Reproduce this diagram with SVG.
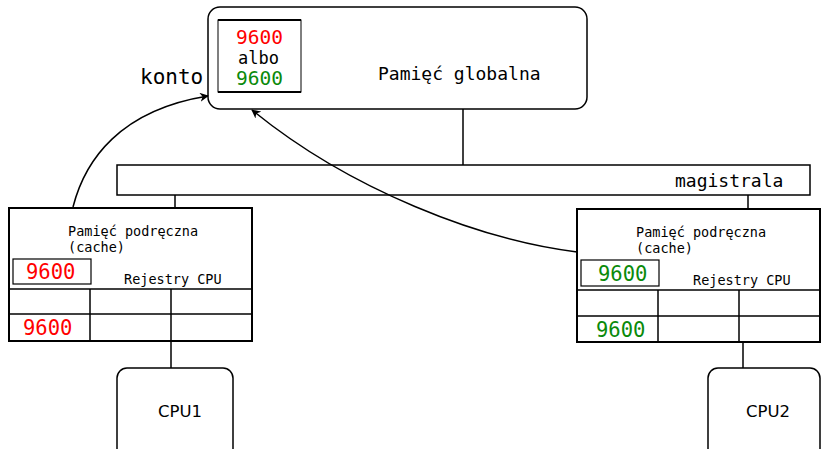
<svg xmlns="http://www.w3.org/2000/svg" width="822" height="449" viewBox="0 0 822 449">
  <style>
    .box { fill: #fff; stroke: #000; }
    .ln { fill: none; stroke: #000; stroke-width: 1.5; }
    .mono { font-family: "DejaVu Sans Mono", "Liberation Mono", monospace; fill: #000; }
    .big { font-size: 20.5px; }
    .mid { font-size: 18px; }
    .small { font-size: 13.5px; }
    .sans { font-family: "DejaVu Sans", "Noto Sans", sans-serif; font-size: 16.5px; text-anchor: middle; }
    .red { fill: #ff0000; }
    .green { fill: #0a8a0a; }
    .var { font-size: 19.5px; }
  </style>
  <defs>
    <marker id="arrow" viewBox="0 0 10 10" refX="9" refY="5" markerWidth="9" markerHeight="9" markerUnits="userSpaceOnUse" orient="auto">
      <path d="M0,0 L10,5 L0,10 L3,5 Z" fill="#000"/>
    </marker>
  </defs>

  <!-- bus and its connections -->
  <g id="connectors">
    <line class="ln" x1="463" y1="109" x2="463" y2="165"/>
    <line class="ln" x1="175" y1="195" x2="175" y2="208"/>
    <line class="ln" x1="748" y1="195" x2="748" y2="209" stroke-width="2.5"/>
    <line class="ln" x1="171" y1="341" x2="171" y2="368"/>
    <line class="ln" x1="743" y1="342" x2="743" y2="368"/>
  </g>

  <g id="bus">
    <rect class="box" x="117" y="165" width="693" height="30" stroke-width="1.5"/>
    <text class="mono mid" x="675" y="187">magistrala</text>
  </g>

  <g id="global-memory">
    <rect class="box" x="208" y="7" width="379" height="102" rx="12" stroke-width="1.5"/>
    <rect class="box" x="218" y="20" width="83" height="72" stroke-width="1"/>
    <line x1="218" y1="20" x2="301" y2="20" stroke="#000" stroke-width="2"/>
    <line x1="218" y1="92" x2="301" y2="92" stroke="#000" stroke-width="2"/>
    <text class="mono var red" x="236" y="44">9600</text>
    <text class="mono" font-size="17" x="238" y="63.5">albo</text>
    <text class="mono var green" x="236" y="84.5">9600</text>
    <text class="mono mid" x="378" y="80">Pamięć globalna</text>
  </g>

  <g id="konto-label">
    <text class="mono" font-size="21" x="140" y="84">konto</text>
  </g>

  <g id="cache1">
    <rect class="box" x="9" y="208" width="243" height="133" stroke-width="2"/>
    <text class="mono small" x="68" y="236">Pamięć podręczna</text>
    <text class="mono small" x="68" y="252">(cache)</text>
    <rect class="box" x="13" y="259" width="78" height="25" stroke-width="1.2"/>
    <text class="mono big red" x="26" y="279">9600</text>
    <text class="mono small" x="124" y="284">Rejestry CPU</text>
    <line class="ln" x1="9" y1="289" x2="252" y2="289" stroke-width="1.2"/>
    <line class="ln" x1="9" y1="314" x2="252" y2="314" stroke-width="1.2"/>
    <line class="ln" x1="90" y1="289" x2="90" y2="341" stroke-width="1.2"/>
    <line class="ln" x1="171" y1="289" x2="171" y2="341" stroke-width="1.2"/>
    <text class="mono big red" x="23" y="335">9600</text>
  </g>

  <g id="cache2">
    <rect class="box" x="577" y="209" width="243" height="133" stroke-width="2"/>
    <text class="mono small" x="636" y="237">Pamięć podręczna</text>
    <text class="mono small" x="636" y="253">(cache)</text>
    <rect class="box" x="581" y="260" width="78" height="26" stroke-width="1.2"/>
    <text class="mono big green" x="598" y="281">9600</text>
    <text class="mono small" x="693" y="285">Rejestry CPU</text>
    <line class="ln" x1="577" y1="290" x2="820" y2="290" stroke-width="1.2"/>
    <line class="ln" x1="577" y1="316" x2="820" y2="316" stroke-width="1.2"/>
    <line class="ln" x1="658" y1="290" x2="658" y2="342" stroke-width="1.2"/>
    <line class="ln" x1="739" y1="290" x2="739" y2="342" stroke-width="1.2"/>
    <text class="mono big green" x="596" y="337">9600</text>
  </g>

  <g id="cpu1">
    <rect class="box" x="117" y="368" width="116" height="95" rx="10" stroke-width="1.5"/>
    <text class="sans" x="180" y="417">CPU1</text>
  </g>

  <g id="cpu2">
    <rect class="box" x="708" y="368" width="112" height="95" rx="10" stroke-width="1.5"/>
    <text class="sans" x="768" y="417">CPU2</text>
  </g>

  <!-- write-back arrows from the caches to the shared variable -->
  <g id="arrows">
    <path class="ln" d="M73,207 C85,160 120,110 208,96" stroke-width="1.3" marker-end="url(#arrow)"/>
    <path class="ln" d="M577,252 C480,240 350,190 252,110" stroke-width="1.3" marker-end="url(#arrow)"/>
  </g>
</svg>
